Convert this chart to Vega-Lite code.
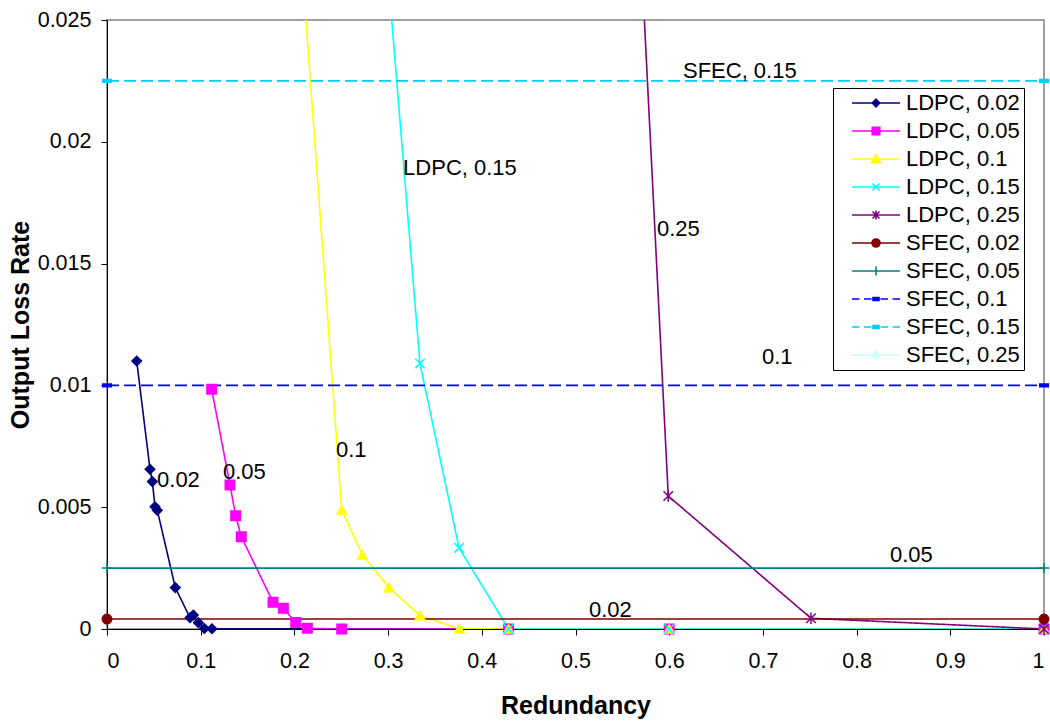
{
  "$schema": "https://vega.github.io/schema/vega-lite/v6.json",
  "width": 937,
  "height": 609,
  "autosize": "none",
  "padding": {"left": 107, "top": 20, "right": 6, "bottom": 93},
  "background": "white",
  "config": {
    "font": "Liberation Sans",
    "view": {"stroke": "#a0a0a0", "strokeWidth": 2},
    "axis": {"grid": false, "domainColor": "black", "tickColor": "black", "labelColor": "black", "titleColor": "black", "labelFont": "Liberation Sans", "titleFont": "Liberation Sans", "labelFontSize": 21.5, "titleFontSize": 25, "titleFontWeight": "bold", "tickSize": 6, "labelFontWeight": "normal"}
  },
  "datasets": {
    "series": [
      {"series": "SFEC, 0.25", "x": 0.4286, "y": 0},
      {"series": "SFEC, 0.25", "x": 0.6, "y": 0},
      {"series": "SFEC, 0.25", "x": 1, "y": 0},
      {"series": "LDPC, 0.02", "x": 0.0317, "y": 0.011},
      {"series": "LDPC, 0.02", "x": 0.0459, "y": 0.00656},
      {"series": "LDPC, 0.02", "x": 0.0484, "y": 0.00605},
      {"series": "LDPC, 0.02", "x": 0.0512, "y": 0.00502},
      {"series": "LDPC, 0.02", "x": 0.0537, "y": 0.00487},
      {"series": "LDPC, 0.02", "x": 0.0729, "y": 0.0017},
      {"series": "LDPC, 0.02", "x": 0.0886, "y": 0.00046},
      {"series": "LDPC, 0.02", "x": 0.0921, "y": 0.00057},
      {"series": "LDPC, 0.02", "x": 0.0975, "y": 0.00026},
      {"series": "LDPC, 0.02", "x": 0.1039, "y": 0.00002},
      {"series": "LDPC, 0.02", "x": 0.112, "y": 0.00001},
      {"series": "LDPC, 0.02", "x": 0.4286, "y": 0},
      {"series": "LDPC, 0.02", "x": 0.6, "y": 0},
      {"series": "LDPC, 0.02", "x": 1, "y": 0},
      {"series": "LDPC, 0.05", "x": 0.1117, "y": 0.00984},
      {"series": "LDPC, 0.05", "x": 0.1313, "y": 0.00591},
      {"series": "LDPC, 0.05", "x": 0.1373, "y": 0.00465},
      {"series": "LDPC, 0.05", "x": 0.1433, "y": 0.00379},
      {"series": "LDPC, 0.05", "x": 0.1772, "y": 0.0011},
      {"series": "LDPC, 0.05", "x": 0.1882, "y": 0.00085},
      {"series": "LDPC, 0.05", "x": 0.2014, "y": 0.00027},
      {"series": "LDPC, 0.05", "x": 0.2138, "y": 0.00003},
      {"series": "LDPC, 0.05", "x": 0.2505, "y": 0},
      {"series": "LDPC, 0.05", "x": 0.4286, "y": 0},
      {"series": "LDPC, 0.05", "x": 0.6, "y": 0},
      {"series": "LDPC, 0.05", "x": 1, "y": 0},
      {"series": "LDPC, 0.1", "x": 0.2, "y": 0.0315},
      {"series": "LDPC, 0.1", "x": 0.2505, "y": 0.00489},
      {"series": "LDPC, 0.1", "x": 0.2725, "y": 0.00304},
      {"series": "LDPC, 0.1", "x": 0.301, "y": 0.0017},
      {"series": "LDPC, 0.1", "x": 0.334, "y": 0.00055},
      {"series": "LDPC, 0.1", "x": 0.376, "y": 0.00001},
      {"series": "LDPC, 0.1", "x": 0.4286, "y": 0},
      {"series": "LDPC, 0.1", "x": 0.6, "y": 0},
      {"series": "LDPC, 0.1", "x": 1, "y": 0},
      {"series": "LDPC, 0.15", "x": 0.3, "y": 0.0268},
      {"series": "LDPC, 0.15", "x": 0.334, "y": 0.0109},
      {"series": "LDPC, 0.15", "x": 0.3757, "y": 0.00333},
      {"series": "LDPC, 0.15", "x": 0.4286, "y": 0},
      {"series": "LDPC, 0.15", "x": 0.6, "y": 0},
      {"series": "LDPC, 0.15", "x": 1, "y": 0},
      {"series": "LDPC, 0.25", "x": 0.55, "y": 0.043},
      {"series": "LDPC, 0.25", "x": 0.599, "y": 0.00546},
      {"series": "LDPC, 0.25", "x": 0.7513, "y": 0.00044},
      {"series": "LDPC, 0.25", "x": 1, "y": 0},
      {"series": "SFEC, 0.02", "x": 0, "y": 0.00041},
      {"series": "SFEC, 0.02", "x": 1, "y": 0.00041},
      {"series": "SFEC, 0.05", "x": 0, "y": 0.0025},
      {"series": "SFEC, 0.05", "x": 1, "y": 0.0025},
      {"series": "SFEC, 0.1", "x": 0, "y": 0.01},
      {"series": "SFEC, 0.1", "x": 1, "y": 0.01},
      {"series": "SFEC, 0.15", "x": 0, "y": 0.0225},
      {"series": "SFEC, 0.15", "x": 1, "y": 0.0225}
    ],
    "notes": [
      {"label": "SFEC, 0.15", "tx": 0.6147, "ty": 0.0229},
      {"label": "LDPC, 0.15", "tx": 0.316, "ty": 0.01892},
      {"label": "0.25", "tx": 0.587, "ty": 0.01642},
      {"label": "0.1", "tx": 0.699, "ty": 0.01117},
      {"label": "0.1", "tx": 0.2444, "ty": 0.00735},
      {"label": "0.02", "tx": 0.0534, "ty": 0.00612},
      {"label": "0.05", "tx": 0.1238, "ty": 0.00645},
      {"label": "0.05", "tx": 0.8356, "ty": 0.00304},
      {"label": "0.02", "tx": 0.5144, "ty": 0.00078}
    ]
  },
  "layer": [
    {
      "data": {"name": "series"},
      "mark": {"type": "line", "clip": true, "strokeWidth": 1.6},
      "encoding": {
        "x": {"field": "x", "type": "quantitative", "scale": {"domain": [0, 1], "nice": false},
          "axis": {"values": [0, 0.1, 0.2, 0.3, 0.4, 0.5, 0.6, 0.7, 0.8, 0.9, 1], "format": "~g", "title": "Redundancy", "labelPadding": 15, "titlePadding": 22}},
        "y": {"field": "y", "type": "quantitative", "scale": {"domain": [0, 0.025], "nice": false, "zero": false},
          "axis": {"values": [0, 0.005, 0.01, 0.015, 0.02, 0.025], "format": "~g", "title": "Output Loss Rate", "labelPadding": 10, "titlePadding": 4}},
        "color": {"field": "series", "type": "nominal",
          "scale": {"domain": ["LDPC, 0.02", "LDPC, 0.05", "LDPC, 0.1", "LDPC, 0.15", "LDPC, 0.25", "SFEC, 0.02", "SFEC, 0.05", "SFEC, 0.1", "SFEC, 0.15", "SFEC, 0.25"],
            "range": ["#000080", "#FF00FF", "#FFFF00", "#00FFFF", "#800080", "#800000", "#008080", "#0000FF", "#00CCFF", "#CCFFFF"]},
          "legend": {
            "title": null, "orient": "none", "legendX": 726, "legendY": 68,
            "strokeColor": "black", "fillColor": "white", "padding": 4,
            "labelFont": "Liberation Sans", "labelFontSize": 22, "labelColor": "black", "labelLimit": 300,
            "symbolSize": 100, "symbolOffset": 28, "labelOffset": 19, "rowPadding": 6,
            "encode": {"symbols": {"update": {
              "shape": {"signal": "['M-4.8,0H4.8M0,-0.75L0.75,0L0,0.75L-0.75,0Z','M-4.8,0H4.8M-0.75,-0.75H0.75V0.75H-0.75Z','M-4.8,0H4.8M0,-0.85L0.9,0.75H-0.9Z','M-4.8,0H4.8M-0.7,-0.7L0.7,0.7M-0.7,0.7L0.7,-0.7','M-4.8,0H4.8M-0.7,-0.7L0.7,0.7M-0.7,0.7L0.7,-0.7M0,-0.9V0.9','M-4.8,0H4.8M-0.8,0A0.8,0.8,0,1,0,0.8,0A0.8,0.8,0,1,0,-0.8,0Z','M-4.8,0H4.8M0,-0.9V0.9','M-4.8,0H-3.3M-2.4,0H-0.9M0.9,0H2.4M3.3,0H4.8M-0.6,-0.3H0.6V0.3H-0.6Z','M-4.8,0H-3.3M-2.4,0H-0.9M0.9,0H2.4M3.3,0H4.8M-0.6,-0.3H0.6V0.3H-0.6Z','M-4.8,0H4.8M0,-0.8L0.8,0L0,0.8L-0.8,0Z'][indexof(['LDPC, 0.02','LDPC, 0.05','LDPC, 0.1','LDPC, 0.15','LDPC, 0.25','SFEC, 0.02','SFEC, 0.05','SFEC, 0.1','SFEC, 0.15','SFEC, 0.25'], datum.value)]"},
              "fill": {"scale": "color", "field": "value"},
              "stroke": {"scale": "color", "field": "value"},
              "strokeWidth": {"value": 1.6},
              "size": {"value": 100},
              "opacity": {"value": 1}
            }}}
          }},
        "strokeDash": {"field": "series", "type": "nominal", "legend": null,
          "scale": {"range": [[1, 0], [1, 0], [1, 0], [1, 0], [1, 0], [1, 0], [1, 0], [12, 5], [12, 5], [1, 0]]}}
      }
    },
    {
      "data": {"name": "series"},
      "transform": [{"filter": "datum.y <= 0.025"}],
      "mark": {"type": "point", "filled": true, "size": 90, "strokeWidth": 1.5, "opacity": 1},
      "encoding": {
        "x": {"field": "x", "type": "quantitative"},
        "y": {"field": "y", "type": "quantitative"},
        "color": {"field": "series", "type": "nominal"},
        "stroke": {"field": "series", "type": "nominal", "legend": null,
          "scale": {"range": ["#000080", "#FF00FF", "#FFFF00", "#00FFFF", "#800080", "#800000", "#008080", "#0000FF", "#00CCFF", "#CCFFFF"]}},
        "shape": {"field": "series", "type": "nominal", "legend": null,
          "scale": {"range": ["diamond", "square", "triangle-up", "M-1,-1L1,1M-1,1L1,-1", "M-1,-1L1,1M-1,1L1,-1M0,-1.2L0,1.2", "circle", "M-1.1,0L1.1,0M0,-1.1L0,1.1", "M-0.9,-0.3H0.9V0.3H-0.9Z", "M-0.9,-0.3H0.9V0.3H-0.9Z", "diamond"]}}
      }
    },
    {
      "data": {"name": "notes"},
      "mark": {"type": "text", "align": "left", "baseline": "middle", "font": "Liberation Sans", "fontSize": 22, "color": "black"},
      "encoding": {
        "x": {"field": "tx", "type": "quantitative"},
        "y": {"field": "ty", "type": "quantitative"},
        "text": {"field": "label", "type": "nominal"}
      }
    }
  ]
}
